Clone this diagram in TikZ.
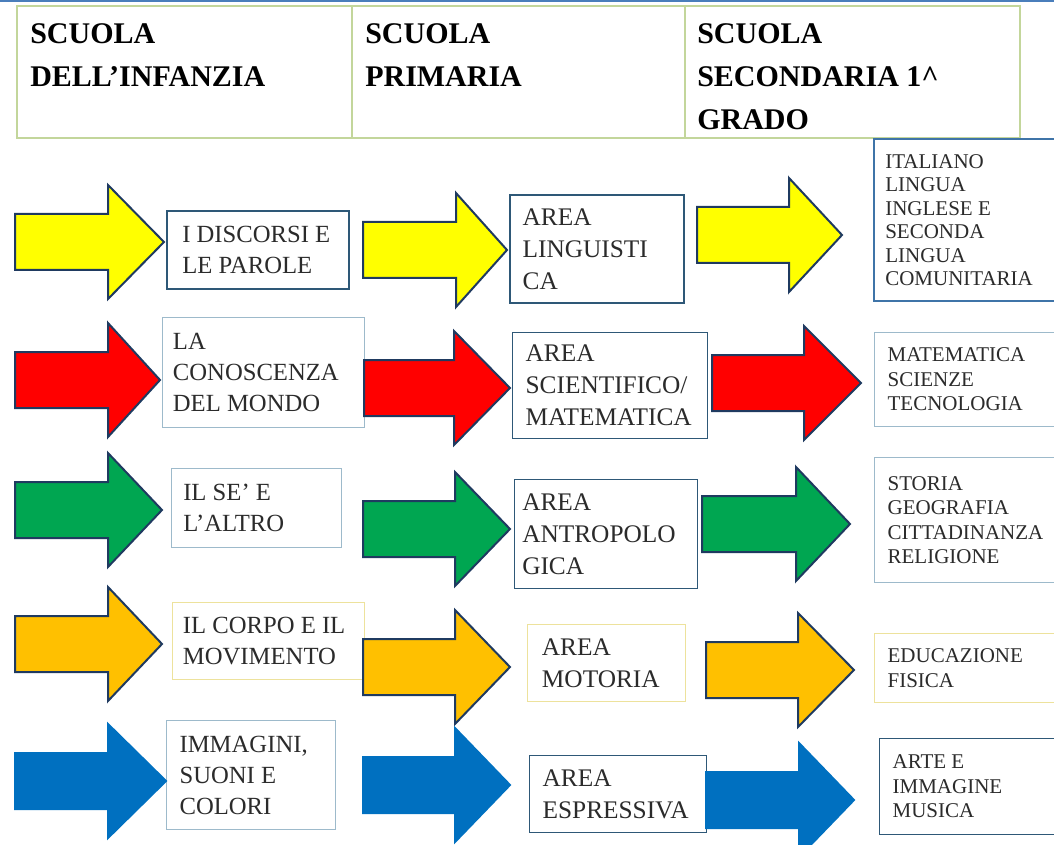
\documentclass[tikz,border=0pt]{standalone}
\usepackage{fontspec}
\setmainfont{Liberation Serif}
\usepackage{tikz}

\definecolor{giallo}{HTML}{FFFF00}
\definecolor{rosso}{HTML}{FF0000}
\definecolor{verde}{HTML}{00A651}
\definecolor{arancio}{HTML}{FFC000}
\definecolor{blu}{HTML}{0070C0}
\definecolor{contorno}{HTML}{1F3A60}
\definecolor{bordoscuro}{HTML}{2E5877}
\definecolor{bordomedio}{HTML}{3F74A8}
\definecolor{bordochiaro}{HTML}{9DBACB}
\definecolor{bordogiallo}{HTML}{EDE29C}
\definecolor{bordoverde}{HTML}{C3D69B}
\definecolor{lineablu}{HTML}{4A7EBB}
\definecolor{testo}{HTML}{2B2B2B}

% block arrow: [outline]{fill}{x tail}{y centre}{x head base}{x tip}
\newcommand{\freccia}[6][contorno]{%
  \draw[freccia, draw=#1, fill=#2] (#3,#4-28) -- (#5,#4-28) -- (#5,#4-57) -- (#6,#4)
    -- (#5,#4+57) -- (#5,#4+28) -- (#3,#4+28) -- cycle;}

\begin{document}
\begin{tikzpicture}[x=0.75pt,y=-0.75pt,
    freccia/.style={line width=1.5pt, line join=miter},
    scatola/.style={draw=#1, fill=white, inner sep=0pt, anchor=north west},
    spesso/.style={line width=1.5pt},
    sottile/.style={line width=0.8pt},
    intest/.style={anchor=north west, align=left, inner sep=0pt, text=black,
      font=\fontsize{22.5}{32.4}\selectfont\bfseries},
    testosx/.style={anchor=west, align=left, inner sep=0pt, text=testo,
      font=\fontsize{18.5}{23.25}\selectfont},
    testocx/.style={anchor=west, align=left, inner sep=0pt, text=testo,
      font=\fontsize{19}{24}\selectfont},
    testodx/.style={anchor=west, align=left, inner sep=0pt, text=testo,
      font=\fontsize{15.75}{18.4}\selectfont}]
  \useasboundingbox (0,0) rectangle (1054,845);

  % top rule and header table
  \draw[lineablu, line width=1.5pt] (0,1) -- (1054,1);
  \draw[bordoverde, line width=1pt, fill=white] (17,6) rectangle (1020,138);
  \draw[bordoverde, line width=1pt] (352,6) -- (352,138);
  \draw[bordoverde, line width=1pt] (685,6) -- (685,138);
  \node[intest] (h1) at (30,23)  {SCUOLA\\DELL’INFANZIA};
  \node[intest] (h2) at (365,23) {SCUOLA\\PRIMARIA};
  \node[intest] (h3) at (697,23) {SCUOLA\\SECONDARIA 1\textasciicircum\\GRADO};

  % first column
  \node[scatola=bordoscuro, spesso, minimum width=136.5pt, minimum height=58.5pt] (b11) at (166,210) {};
  \node[testosx] (t11) at ([xshift=12pt]b11.west) {I DISCORSI E\\LE PAROLE};
  \node[scatola=bordochiaro, sottile, minimum width=151.5pt, minimum height=82.5pt] (b21) at (162,317) {};
  \node[testosx] (t21) at ([xshift=8pt]b21.west) {LA\\CONOSCENZA\\DEL MONDO};
  \node[scatola=bordochiaro, sottile, minimum width=127.5pt, minimum height=59.25pt] (b31) at (171,468) {};
  \node[testosx] (t31) at ([xshift=9pt]b31.west) {IL SE’ E\\L’ALTRO};
  \node[scatola=bordogiallo, sottile, minimum width=144pt, minimum height=57.75pt] (b41) at (172,602) {};
  \node[testosx] (t41) at ([xshift=8pt]b41.west) {IL CORPO E IL\\MOVIMENTO};
  \node[scatola=bordochiaro, sottile, minimum width=126.75pt, minimum height=81.75pt] (b51) at (166,720) {};
  \node[testosx] (t51) at ([xshift=10pt]b51.west) {IMMAGINI,\\SUONI E\\COLORI};

  % second column
  \node[scatola=bordoscuro, spesso, minimum width=130.5pt, minimum height=81pt] (b12) at (509,194) {};
  \node[testocx] (t12) at ([xshift=10pt]b12.west) {AREA\\LINGUISTI\\CA};
  \node[scatola=bordoscuro, sottile, minimum width=146.25pt, minimum height=79.5pt] (b22) at (512,332) {};
  \node[testocx] (t22) at ([xshift=10pt]b22.west) {AREA\\SCIENTIFICO/\\MATEMATICA};
  \node[scatola=bordoscuro, sottile, minimum width=137.25pt, minimum height=81.75pt] (b32) at (514,479) {};
  \node[testocx] (t32) at ([xshift=6pt]b32.west) {AREA\\ANTROPOLO\\GICA};
  \node[scatola=bordogiallo, sottile, minimum width=118.5pt, minimum height=57.75pt] (b42) at (527,624) {};
  \node[testocx] (t42) at ([xshift=11pt]b42.west) {AREA\\MOTORIA};
  \node[scatola=bordoscuro, sottile, minimum width=132.75pt, minimum height=57.75pt] (b52) at (529,755) {};
  \node[testocx] (t52) at ([xshift=10pt]b52.west) {AREA\\ESPRESSIVA};

  % third column
  \node[scatola=bordomedio, spesso, minimum width=138.75pt, minimum height=121.5pt] (b13) at (873,138) {};
  \node[testodx, font=\fontsize{15.75}{17.6}\selectfont] (t13) at ([xshift=9pt]b13.west) {ITALIANO\\LINGUA\\INGLESE E\\SECONDA\\LINGUA\\COMUNITARIA};
  \node[scatola=bordochiaro, sottile, minimum width=138pt, minimum height=70.5pt] (b23) at (874,332) {};
  \node[testodx] (t23) at ([xshift=10pt]b23.west) {MATEMATICA\\SCIENZE\\TECNOLOGIA};
  \node[scatola=bordochiaro, sottile, minimum width=138pt, minimum height=93.75pt] (b33) at (874,457) {};
  \node[testodx] (t33) at ([xshift=10pt]b33.west) {STORIA\\GEOGRAFIA\\CITTADINANZA\\RELIGIONE};
  \node[scatola=bordogiallo, sottile, minimum width=138pt, minimum height=51.75pt] (b43) at (874,633) {};
  \node[testodx] (t43) at ([xshift=10pt]b43.west) {EDUCAZIONE\\FISICA};
  \node[scatola=bordoscuro, sottile, minimum width=134.25pt, minimum height=72pt] (b53) at (879,738) {};
  \node[testodx] (t53) at ([xshift=10pt]b53.west) {ARTE E\\IMMAGINE\\MUSICA};

  % arrows, row by row
  \freccia{giallo}{15}{242}{108}{164}
  \freccia{giallo}{363}{250}{456}{507}
  \freccia{giallo}{697}{235}{789}{842}

  \freccia{rosso}{15}{380}{108}{160}
  \freccia{rosso}{364}{388}{454}{510}
  \freccia{rosso}{712}{383}{804}{861}

  \freccia{verde}{15}{510}{108}{162}
  \freccia{verde}{363}{529}{455}{510}
  \freccia{verde}{702}{524}{796}{850}

  \freccia{arancio}{15}{644}{108}{162}
  \freccia{arancio}{363}{667}{455}{510}
  \freccia{arancio}{706}{670}{798}{854}

  \freccia[blu]{blu}{15}{781}{108}{166}
  \freccia[blu]{blu}{363}{785}{455}{510}
  \freccia[blu]{blu}{706}{800}{799}{854}
\end{tikzpicture}
\end{document}
